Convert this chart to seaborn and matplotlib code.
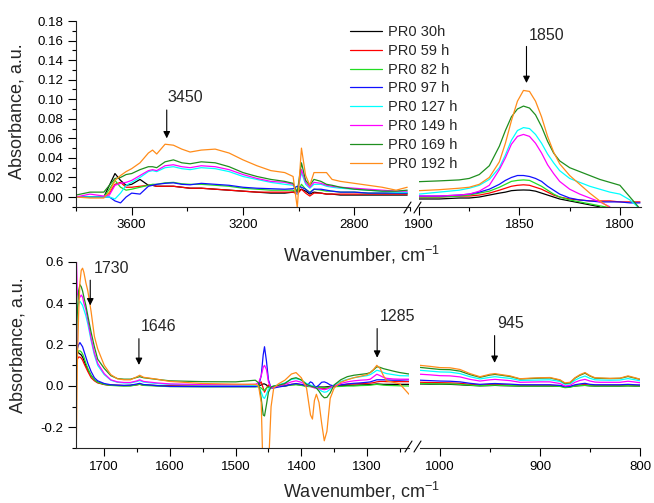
import numpy as np
import pandas as pd
import matplotlib
matplotlib.use("Agg")
import matplotlib.pyplot as plt
from matplotlib.ticker import MultipleLocator, FormatStrFormatter
from matplotlib.lines import Line2D
import seaborn as sns

# ----------------------------
# Data
# ----------------------------
LABELS = ["PR0 30h", "PR0 59 h", "PR0 82 h", "PR0 97 h",
          "PR0 127 h", "PR0 149 h", "PR0 169 h", "PR0 192 h"]
COLORS = ["#000000", "#ff0000", "#22dd22", "#1010ff",
          "#00ffff", "#ff00ff", "#1f8f1f", "#ff8c1a"]
nan = np.nan

# top left: 3800-2600 cm-1
WN_TL = [3800, 3750, 3700, 3680, 3660, 3640, 3620, 3600, 3570, 3540, 3525, 3510, 3480,
         3450, 3420, 3390, 3350, 3300, 3250, 3200, 3150, 3100, 3050, 3020, 3005, 2990,
         2975, 2960, 2945, 2920, 2900, 2880, 2850, 2800, 2750, 2700, 2650, 2610]
TL_30 = [0.000, 0.000, 0.000, 0.012, 0.024, 0.017, 0.012, 0.013, 0.018, 0.012, 0.012, 0.011, 0.011,
         0.011, 0.010, 0.009, 0.009, 0.008, 0.007, 0.006, 0.005, 0.004, 0.004, 0.005, 0.006, 0.008,
         0.006, 0.003, 0.005, 0.004, 0.003, 0.003, 0.002, 0.002, 0.002, 0.002, 0.002, 0.002]
TL_59 = [0.000, 0.000, 0.000, 0.004, 0.013, 0.015, 0.010, 0.010, 0.011, 0.012, 0.012, 0.011, 0.011,
         0.011, 0.010, 0.009, 0.009, 0.008, 0.007, 0.006, 0.005, 0.005, 0.005, 0.005, 0.003, 0.008,
         0.004, 0.001, 0.004, 0.004, 0.003, 0.003, 0.003, 0.003, 0.003, 0.003, 0.003, 0.003]
TL_82 = [0.000, 0.000, 0.000, 0.008, 0.017, 0.010, 0.007, 0.008, 0.010, 0.012, 0.013, 0.013, 0.0145,
         0.015, 0.0135, 0.013, 0.013, 0.012, 0.011, 0.009, 0.008, 0.007, 0.007, 0.007, 0.004, 0.013,
         0.008, 0.005, 0.008, 0.007, 0.006, 0.006, 0.005, 0.005, 0.004, 0.004, 0.004, 0.004]
TL_97 = [0.000, 0.000, 0.000, 0.000, -0.004, -0.006, 0.000, 0.004, 0.003, 0.011, 0.012, 0.013, 0.014,
         0.0145, 0.013, 0.0125, 0.014, 0.013, 0.012, 0.010, 0.009, 0.0085, 0.008, 0.0085, 0.011, 0.010,
         0.008, 0.004, 0.008, 0.008, 0.007, 0.006, 0.005, 0.005, 0.004, 0.004, 0.004, 0.004]
TL_127 = [0.000, 0.000, 0.000, 0.000, -0.002, 0.004, 0.012, 0.015, 0.020, 0.026, 0.027, 0.026, 0.030,
          0.031, 0.029, 0.028, 0.030, 0.029, 0.026, 0.021, 0.018, 0.015, 0.013, 0.012, 0.003, 0.025,
          0.013, 0.009, 0.013, 0.013, 0.011, 0.010, 0.009, 0.008, 0.007, 0.006, 0.005, 0.005]
TL_149 = [0.000, 0.003, 0.001, 0.002, 0.012, 0.014, 0.015, 0.017, 0.022, 0.027, 0.028, 0.027, 0.032,
          0.033, 0.031, 0.030, 0.032, 0.031, 0.028, 0.023, 0.019, 0.016, 0.015, 0.013, 0.004, 0.028,
          0.015, 0.010, 0.015, 0.014, 0.012, 0.011, 0.010, 0.009, 0.008, 0.007, 0.006, 0.006]
TL_169 = [0.002, 0.005, 0.005, 0.012, 0.019, 0.020, 0.023, 0.024, 0.028, 0.031, 0.031, 0.030, 0.036,
          0.038, 0.035, 0.034, 0.036, 0.035, 0.031, 0.025, 0.021, 0.018, 0.016, 0.014, 0.005, 0.035,
          0.017, 0.012, 0.018, 0.016, 0.013, 0.012, 0.010, 0.008, 0.007, 0.006, 0.006, 0.007]
TL_192 = [0.000, -0.001, -0.001, 0.005, 0.017, 0.022, 0.026, 0.029, 0.035, 0.045, 0.048, 0.044, 0.054,
          0.053, 0.049, 0.046, 0.048, 0.049, 0.045, 0.038, 0.032, 0.027, 0.025, 0.021, -0.011, 0.050,
          0.022, 0.012, 0.025, 0.025, 0.025, 0.018, 0.016, 0.014, 0.012, 0.010, 0.007, 0.010]

# top right: 1900-1790 cm-1
WN_TR = [1900, 1890, 1880, 1875, 1870, 1865, 1860, 1857, 1854, 1851, 1848, 1845, 1842,
         1839, 1836, 1833, 1830, 1825, 1820, 1815, 1810, 1805, 1800, 1795, 1790]
TR_30 = [-0.002, -0.002, -0.001, -0.001, 0.000, 0.002, 0.004, 0.005, 0.0065, 0.007, 0.0072, 0.007, 0.006,
         0.004, 0.002, 0.000, -0.002, -0.004, -0.006, -0.008, -0.010, nan, nan, nan, nan]
TR_59 = [0.000, 0.000, 0.001, 0.001, 0.002, 0.004, 0.007, 0.009, 0.011, 0.012, 0.0125, 0.012, 0.010,
         0.008, 0.005, 0.002, 0.000, -0.002, -0.003, -0.004, -0.004, -0.004, -0.005, -0.005, -0.005]
TR_82 = [0.000, 0.000, 0.001, 0.002, 0.004, 0.006, 0.010, 0.013, 0.016, 0.017, 0.0175, 0.017, 0.014,
         0.011, 0.007, 0.003, 0.000, -0.003, -0.005, -0.007, -0.009, -0.011, nan, nan, nan]
TR_97 = [0.001, 0.001, 0.002, 0.003, 0.005, 0.008, 0.013, 0.017, 0.020, 0.022, 0.022, 0.021, 0.019,
         0.016, 0.011, 0.007, 0.003, -0.001, -0.003, -0.004, -0.005, -0.005, -0.005, -0.006, -0.006]
TR_127 = [0.003, 0.005, 0.007, 0.009, 0.012, 0.018, 0.030, 0.043, 0.058, 0.068, 0.071, 0.070, 0.064,
          0.055, 0.044, 0.035, 0.027, 0.019, 0.015, 0.011, 0.008, 0.005, 0.003, -0.003, -0.012]
TR_149 = [0.001, 0.001, 0.002, 0.003, 0.006, 0.012, 0.028, 0.040, 0.054, 0.062, 0.064, 0.062, 0.055,
          0.045, 0.033, 0.024, 0.016, 0.008, 0.003, -0.001, -0.005, -0.010, nan, nan, nan]
TR_169 = [0.0157, 0.0165, 0.0175, 0.019, 0.023, 0.032, 0.052, 0.068, 0.082, 0.090, 0.093, 0.091, 0.084,
          0.072, 0.057, 0.045, 0.037, 0.030, 0.026, 0.022, 0.018, 0.015, 0.012, 0.000, -0.012]
TR_192 = [0.0065, 0.0075, 0.009, 0.010, 0.013, 0.020, 0.036, 0.055, 0.078, 0.098, 0.109, 0.108, 0.098,
          0.082, 0.062, 0.046, 0.034, 0.022, 0.013, 0.004, -0.004, -0.011, nan, nan, nan]

# bottom left: 1743-1236 cm-1
WN_BL = [1743, 1741, 1739, 1737, 1735, 1733, 1731, 1728, 1725, 1720,
         1715, 1710, 1700, 1690, 1680, 1670, 1660, 1650, 1646, 1640,
         1620, 1600, 1550, 1500, 1470, 1465, 1461, 1458, 1456, 1453,
         1450, 1446, 1442, 1435, 1425, 1415, 1408, 1400, 1392, 1386,
         1383, 1380, 1377, 1373, 1369, 1365, 1361, 1356, 1350, 1340,
         1330, 1320, 1310, 1300, 1295, 1290, 1285, 1280, 1275, 1270,
         1260, 1250, 1236]
BL_30 = [0.19, 0.17, 0.16, 0.155, 0.15, 0.14, 0.125, 0.10, 0.08, 0.05,
         0.03, 0.018, 0.008, 0.004, 0.003, 0.002, 0.003, 0.007, 0.009, 0.005,
         0.002, 0.0, -0.001, -0.001, -0.001, 0.0, 0.005, 0.01, 0.01, 0.005,
         -0.005, -0.005, -0.005, -0.002, 0.0, 0.006, 0.008, 0.005, 0.0, 0.0,
         -0.002, -0.003, -0.004, -0.005, -0.005, -0.005, -0.004, -0.002, 0.0, 0.002,
         0.003, 0.004, 0.005, 0.006, 0.007, 0.008, 0.010, 0.009, 0.008, 0.008,
         0.008, 0.008, 0.008]
BL_59 = [0.10, 0.13, 0.14, 0.14, 0.135, 0.125, 0.11, 0.09, 0.07, 0.04,
         0.025, 0.015, 0.007, 0.004, 0.003, 0.002, 0.002, 0.006, 0.008, 0.004,
         0.002, 0.0, 0.0, 0.0, 0.0, 0.005, 0.02, -0.01, -0.03, -0.01,
         0.005, -0.005, -0.005, 0.0, 0.002, 0.008, 0.010, 0.006, 0.0, -0.002,
         -0.004, -0.006, -0.008, -0.010, -0.012, -0.012, -0.010, -0.005, 0.0, 0.005,
         0.008, 0.010, 0.012, 0.013, 0.014, 0.016, 0.020, 0.022, 0.022, 0.021,
         0.021, 0.021, 0.021]
BL_82 = [0.12, 0.16, 0.17, 0.17, 0.165, 0.155, 0.14, 0.11, 0.085, 0.05,
         0.03, 0.018, 0.008, 0.003, 0.001, 0.0, 0.0, 0.006, 0.008, 0.003,
         0.0, -0.003, -0.004, -0.004, -0.004, -0.004, -0.01, -0.02, -0.02, -0.01,
         -0.005, -0.005, -0.005, -0.003, 0.0, 0.005, 0.006, 0.003, -0.002, -0.003,
         -0.003, -0.004, -0.005, -0.006, -0.008, -0.009, -0.008, -0.005, -0.003, -0.002,
         0.0, 0.0, 0.002, 0.003, 0.004, 0.006, 0.008, 0.006, 0.004, 0.003,
         0.002, 0.001, 0.0]
BL_97 = [0.40, 0.18, 0.20, 0.21, 0.20, 0.19, 0.17, 0.14, 0.11, 0.07,
         0.04, 0.025, 0.012, 0.006, 0.004, 0.003, 0.004, 0.010, 0.013, 0.007,
         0.002, -0.002, -0.003, -0.003, -0.003, 0.0, 0.05, 0.15, 0.19, 0.12,
         0.03, -0.01, -0.01, -0.005, 0.0, 0.008, 0.012, 0.008, 0.0, 0.020,
         0.015, 0.0, -0.005, 0.005, 0.018, 0.020, 0.015, 0.005, 0.0, 0.005,
         0.010, 0.013, 0.015, 0.018, 0.020, 0.025, 0.030, 0.030, 0.030, 0.029,
         0.028, 0.028, 0.030]
BL_127 = [0.30, 0.38, 0.40, 0.41, 0.40, 0.39, 0.37, 0.34, 0.30, 0.22,
          0.15, 0.10, 0.055, 0.028, 0.018, 0.015, 0.015, 0.022, 0.026, 0.019,
          0.012, 0.008, 0.005, 0.004, 0.004, 0.0, -0.03, -0.055, -0.06, -0.04,
          -0.015, -0.005, 0.0, 0.005, 0.015, 0.032, 0.036, 0.028, 0.012, 0.005,
          0.0, -0.005, -0.008, -0.015, -0.025, -0.030, -0.028, -0.015, 0.005, 0.022,
          0.032, 0.040, 0.045, 0.050, 0.055, 0.065, 0.076, 0.072, 0.065, 0.060,
          0.055, 0.050, 0.049]
BL_149 = [0.70, 0.45, 0.42, 0.43, 0.44, 0.43, 0.40, 0.37, 0.32, 0.23,
          0.16, 0.11, 0.06, 0.03, 0.02, 0.017, 0.017, 0.025, 0.030, 0.022,
          0.015, 0.010, 0.007, 0.006, 0.008, 0.015, 0.05, 0.09, 0.10, 0.08,
          0.02, -0.01, -0.005, 0.0, 0.008, 0.020, 0.025, 0.018, 0.005, -0.002,
          -0.005, -0.010, -0.010, -0.013, -0.015, -0.018, -0.015, -0.008, 0.0, 0.012,
          0.020, 0.025, 0.028, 0.030, 0.033, 0.045, 0.057, 0.050, 0.042, 0.037,
          0.034, 0.033, 0.033]
BL_169 = [0.19, 0.35, 0.46, 0.49, 0.48, 0.46, 0.43, 0.39, 0.34, 0.26,
          0.19, 0.13, 0.085, 0.050, 0.036, 0.033, 0.033, 0.042, 0.045, 0.040,
          0.032, 0.025, 0.021, 0.020, 0.028, 0.015, -0.060, -0.140, -0.145, -0.090,
          -0.030, -0.005, 0.000, 0.003, 0.012, 0.035, 0.040, 0.030, 0.008, 0.000,
          -0.003, -0.005, -0.010, -0.025, -0.045, -0.057, -0.055, -0.033, 0.005, 0.030,
          0.045, 0.052, 0.056, 0.060, 0.065, 0.078, 0.093, 0.090, 0.084, 0.080,
          0.072, 0.065, 0.058]
BL_192 = [-0.40, 0.10, 0.35, 0.50, 0.56, 0.57, 0.55, 0.50, 0.46, 0.36,
          0.24, 0.18, 0.10, 0.055, 0.035, 0.03, 0.03, 0.045, 0.052, 0.042,
          0.033, 0.022, 0.012, 0.009, 0.008, 0.0, -0.08, -0.45, -0.50, -0.50,
          -0.40, -0.10, -0.01, 0.010, 0.028, 0.058, 0.065, 0.040, -0.010, -0.140,
          -0.160, -0.070, -0.040, -0.080, -0.180, -0.265, -0.220, -0.060, -0.010, 0.018,
          0.030, 0.040, 0.047, 0.055, 0.065, 0.080, 0.100, 0.085, 0.050, 0.025,
          0.018, 0.010, -0.040]

# bottom right: 1020-800 cm-1
WN_BR = [1020, 1010, 1000, 990, 980, 970, 960, 950, 945, 940,
         930, 920, 910, 900, 890, 880, 875, 870, 865, 860,
         855, 850, 845, 840, 830, 820, 812, 805, 800]
BR_30 = [0.010, 0.009, 0.009, 0.008, 0.006, 0.003, 0.001, 0.002, 0.003, 0.002,
         0.001, 0.000, 0.000, 0.000, 0.000, -0.001, -0.004, -0.003, 0.000, 0.002,
         0.003, 0.001, 0.000, 0.000, 0.000, 0.000, 0.001, 0.000, 0.000]
BR_59 = [0.018, 0.017, 0.016, 0.015, 0.013, 0.008, 0.005, 0.007, 0.008, 0.007,
         0.005, 0.003, 0.003, 0.003, 0.003, 0.001, -0.004, -0.003, 0.002, 0.005,
         0.007, 0.004, 0.003, 0.003, 0.003, 0.003, 0.004, 0.003, 0.003]
BR_82 = [0.012, 0.011, 0.010, 0.010, 0.008, 0.004, 0.001, 0.003, 0.004, 0.003,
         0.002, 0.000, 0.000, 0.000, 0.000, -0.002, -0.008, -0.006, 0.000, 0.002,
         0.003, 0.001, 0.000, 0.000, 0.000, 0.000, 0.001, 0.000, 0.000]
BR_97 = [0.028, 0.026, 0.024, 0.023, 0.020, 0.013, 0.008, 0.011, 0.012, 0.011,
         0.009, 0.006, 0.006, 0.006, 0.006, 0.003, -0.003, -0.002, 0.006, 0.010,
         0.013, 0.008, 0.006, 0.006, 0.006, 0.006, 0.008, 0.006, 0.005]
BR_127 = [0.076, 0.072, 0.068, 0.067, 0.060, 0.045, 0.034, 0.042, 0.045, 0.042,
          0.037, 0.027, 0.028, 0.029, 0.030, 0.022, 0.008, 0.010, 0.028, 0.040,
          0.048, 0.037, 0.030, 0.029, 0.028, 0.029, 0.036, 0.030, 0.025]
BR_149 = [0.057, 0.054, 0.050, 0.049, 0.044, 0.032, 0.024, 0.030, 0.032, 0.030,
          0.026, 0.018, 0.019, 0.020, 0.020, 0.012, 0.000, 0.003, 0.018, 0.027,
          0.032, 0.024, 0.019, 0.018, 0.018, 0.018, 0.023, 0.019, 0.016]
BR_169 = [0.090, 0.085, 0.080, 0.079, 0.072, 0.055, 0.042, 0.053, 0.056, 0.053,
          0.046, 0.034, 0.036, 0.038, 0.039, 0.028, 0.012, 0.015, 0.038, 0.052,
          0.062, 0.048, 0.038, 0.037, 0.036, 0.037, 0.046, 0.038, 0.032]
BR_192 = [0.100, 0.095, 0.089, 0.088, 0.080, 0.060, 0.045, 0.057, 0.060, 0.056,
          0.049, 0.035, 0.038, 0.040, 0.041, 0.030, 0.015, 0.018, 0.040, 0.055,
          0.065, 0.050, 0.040, 0.039, 0.037, 0.038, 0.049, 0.040, 0.033]


def long_table(wn, series):
    rows = []
    for label, values in zip(LABELS, series):
        assert len(values) == len(wn), label
        rows.append(pd.DataFrame({"wn": wn, "absorbance": values, "sample": label}))
    return pd.concat(rows, ignore_index=True).dropna()


df_tl = long_table(WN_TL, [TL_30, TL_59, TL_82, TL_97, TL_127, TL_149, TL_169, TL_192])
df_tr = long_table(WN_TR, [TR_30, TR_59, TR_82, TR_97, TR_127, TR_149, TR_169, TR_192])
df_bl = long_table(WN_BL, [BL_30, BL_59, BL_82, BL_97, BL_127, BL_149, BL_169, BL_192])
df_br = long_table(WN_BR, [BR_30, BR_59, BR_82, BR_97, BR_127, BR_149, BR_169, BR_192])

# ----------------------------
# Style
# ----------------------------
sns.set_style("ticks")
plt.rcParams["font.family"] = ["Liberation Sans", "DejaVu Sans"]
plt.rcParams["mathtext.fontset"] = "custom"
plt.rcParams["mathtext.rm"] = "Liberation Sans"
plt.rcParams["axes.unicode_minus"] = False
plt.rcParams["axes.linewidth"] = 0.8

W, H = 654, 503
fig = plt.figure(figsize=(W / 100, H / 100), dpi=100)


def px_axes(x0, y0, x1, y1):
    # axes from pixel box (top-left origin)
    ax = fig.add_axes([x0 / W, 1 - y1 / H, (x1 - x0) / W, (y1 - y0) / H])
    ax.set_facecolor("none")
    return ax


ax_tl = px_axes(76, 21, 410, 207)
ax_tr = px_axes(419, 21, 641, 207)
ax_bl = px_axes(76, 262, 409, 448)
ax_br = px_axes(420, 262, 640, 448)

palette = dict(zip(LABELS, COLORS))
for ax, df in [(ax_tl, df_tl), (ax_tr, df_tr), (ax_bl, df_bl), (ax_br, df_br)]:
    sns.lineplot(data=df, x="wn", y="absorbance", hue="sample", hue_order=LABELS,
                 palette=palette, estimator=None, sort=False, lw=0.9, ax=ax,
                 legend=(ax is ax_tl))

handles, labels = ax_tl.get_legend_handles_labels()
ax_tl.get_legend().remove()

ax_tl.set_xlim(3800, 2600)
ax_tr.set_xlim(1900, 1789.5)
ax_bl.set_xlim(1743, 1236)
ax_br.set_xlim(1020, 800)
for ax in (ax_tl, ax_tr):
    ax.set_ylim(-0.0102, 0.18)
for ax in (ax_bl, ax_br):
    ax.set_ylim(-0.3, 0.6)

ax_tl.xaxis.set_major_locator(MultipleLocator(400))
ax_tl.xaxis.set_minor_locator(MultipleLocator(200))
ax_tr.xaxis.set_major_locator(MultipleLocator(50))
ax_tr.xaxis.set_minor_locator(MultipleLocator(25))
ax_bl.xaxis.set_major_locator(MultipleLocator(100))
ax_bl.xaxis.set_minor_locator(MultipleLocator(50))
ax_br.xaxis.set_major_locator(MultipleLocator(100))
ax_br.xaxis.set_minor_locator(MultipleLocator(50))

ax_tl.yaxis.set_major_locator(MultipleLocator(0.02))
ax_tl.yaxis.set_minor_locator(MultipleLocator(0.01))
ax_tl.yaxis.set_major_formatter(FormatStrFormatter("%.2f"))
ax_bl.yaxis.set_major_locator(MultipleLocator(0.2))
ax_bl.yaxis.set_minor_locator(MultipleLocator(0.1))
ax_bl.yaxis.set_major_formatter(FormatStrFormatter("%.1f"))

for ax in (ax_tl, ax_tr, ax_bl, ax_br):
    ax.set_xlabel("")
    ax.set_ylabel("")
    ax.tick_params(which="major", direction="out", length=6, width=0.8,
                   labelsize=9.5, pad=3, colors="black")
    ax.tick_params(which="minor", direction="out", length=3, width=0.8, colors="black")
    for side in ("top", "right"):
        ax.spines[side].set_visible(False)

for ax in (ax_tr, ax_br):
    ax.spines["left"].set_visible(False)
    ax.yaxis.set_visible(False)

for ax, ypos in ((ax_tl, 0.516), (ax_bl, 0.554)):
    ax.set_ylabel("Absorbance, a.u.", fontsize=13)
    ax.yaxis.set_label_coords(-0.150, ypos)

fig.text(283 / W, 1 - 262 / H, "Wavenumber, cm$^{-1}$", fontsize=13, ha="left", va="baseline")
fig.text(283 / W, 1 - 497 / H, "Wavenumber, cm$^{-1}$", fontsize=13, ha="left", va="baseline")

# break marks "//"
for (x1, y1, x2, y2) in [(404, 213, 411, 202), (414, 213, 421, 202),
                         (405, 452, 412, 441), (414, 452, 421, 441)]:
    fig.add_artist(Line2D([x1 / W, x2 / W], [1 - y1 / H, 1 - y2 / H],
                          transform=fig.transFigure, color="black", lw=0.8))

# peak arrows
PEAK_MARKS = [
    (ax_tl, "3450", 3474, 0.060, 0.089, 3470, 0.094),
    (ax_tr, "1850", 1846.5, 0.1166, 0.154, 1845.5, 0.158),
    (ax_bl, "1730", 1721.3, 0.39, 0.512, 1716.7, 0.532),
    (ax_bl, "1646", 1647.2, 0.102, 0.229, 1643.7, 0.254),
    (ax_bl, "1285", 1284.5, 0.137, 0.278, 1280, 0.298),
    (ax_br, "945", 945.4, 0.112, 0.244, 942.4, 0.268),
]
for ax, txt, x, ytip, ytail, tx, ty in PEAK_MARKS:
    ax.annotate("", xy=(x, ytip), xytext=(x, ytail),
                arrowprops=dict(arrowstyle="-|>", color="black", lw=0.8,
                                mutation_scale=10, shrinkA=0, shrinkB=0))
    ax.text(tx, ty, txt, fontsize=11.5, ha="left", va="bottom")

fig.legend(handles, labels, loc="upper left", bbox_to_anchor=(350 / W, 1 - 25 / H),
           frameon=False, fontsize=10.5, handlelength=2.2, handletextpad=0.4,
           labelspacing=0.33, borderpad=0, borderaxespad=0)

fig.savefig("out.png", dpi=100)
